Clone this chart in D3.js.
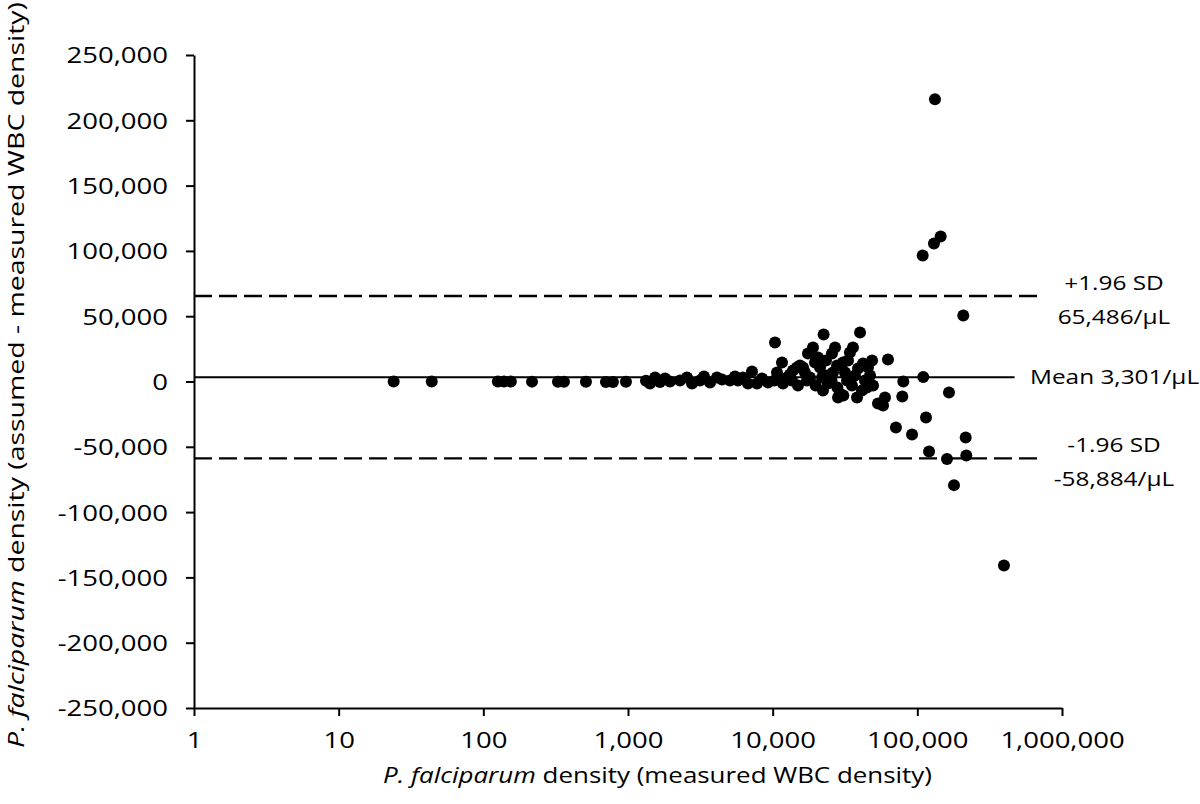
<!DOCTYPE html>
<html>
<head>
<meta charset="utf-8">
<script src="https://cdn.jsdelivr.net/npm/d3@7"></script>
<style>
    html, body { margin: 0; padding: 0; background: #fff; }
    svg { display: block; font-family: "Open Sans", sans-serif; }
</style>
</head>
<body>
<svg id="chart" width="1200" height="804"></svg>
<script>
// measured-WBC parasite density (x) and assumed - measured difference (y)
const measured = [
    24, 44, 126, 139, 155, 217, 328, 361, 512, 704, 787, 968, 1331, 1419, 1538, 1664, 1803, 1950,
    2287, 2557, 2770, 3145, 3352, 3690, 4121, 4467, 5070, 5490, 5757, 6233, 6750, 7194, 7796, 8440,
    9290, 10380, 11600, 10710, 10300, 11790, 12560, 13180, 13810, 14720, 15440, 16210, 16710, 13600,
    14960, 17260, 18120, 17540, 19000, 19630, 19800, 20570, 21250, 21940, 22280, 22500, 23370, 23730,
    24100, 25700, 26980, 27860, 26120, 25500, 28000, 29180, 30620, 31620, 32650, 33170, 34220, 35320,
    35910, 37070, 38900, 40170, 28300, 30800, 38280, 41430, 43450, 42100, 45600, 47100, 48630, 49400,
    44870, 53460, 57920, 59750, 62660, 71120, 80000, 78700, 91900, 108900, 109900, 114800, 120500,
    130300, 132400, 145000, 160300, 165500, 179200, 207800, 215900, 218000, 397000
];
const difference = [
    -20, -30, -50, -60, -70, -100, -150, -160, -230, -300, -350, -200, 600, -1500, 3000, -300, 2300, 0,
    770, 3060, -1530, 770, 3830, -770, 3060, 1530, 770, 3830, 770, 3060, -1530, 7660, -1530, 2300,
    -770, 29860, 14550, 6890, 770, -1530, 3060, 5360, 8420, 10720, 12250, 10720, 6890, 770,
    -3060, 770, 3060, 21440, 26030, 14550, -3060, 18380, 10720, 3060, -6890, 35990, 16080, 4590,
    -1530, 21440, 26030, 12250, 6890, 770, -4590, -9190, 14550, 6890, 770, 16080, 22200, -3060,
    26030, 4590, 9950, 37520, -12250, -10720, -12250, -6890, 770, 13780, 10720, 4590, 16080, -3060,
    -4590, -16850, -18380, -12250, 16850, -35220, 0, -11490, -40580, 96480, 3450, -27570, -53600,
    105670, 216150, 111030, -59420, -8420, -79350, 50540, -42880, -56660, -140890
];

const xTicks = [1, 10, 100, 1000, 10000, 100000, 1000000];
const yTicks = d3.range(-250000, 250001, 50000);

// agreement limits: +1.96 SD, mean, -1.96 SD, and how far right each line runs
const limitValues = [65486, 3301, -58884];
const limitEnds = [700000, 470000, 700000];
const limitLabels = [["+1.96 SD", "65,486/µL"], ["Mean 3,301/µL"], ["-1.96 SD", "-58,884/µL"]];

const stretch = 1.25;
const svg = d3.select("#chart");
const fmt = d => d3.format(",")(d).replace("−", "-");

const x = d3.scaleLog().domain([1, 1e6]).range([194, 1062]);
const y = d3.scaleLinear().domain([-250000, 250000]).range([708, 55]);

// limit lines
const line = d3.line().x(d => x(d[0])).y(d => y(d[1]));
limitValues.forEach((v, i) => {
    svg.append("path")
        .attr("d", line([[1, v], [limitEnds[i], v]]))
        .attr("fill", "none")
        .attr("stroke", "#000")
        .attr("stroke-width", i === 1 ? 2 : 2.3)
        .attr("stroke-dasharray", i === 1 ? null : "18 7");
});

// axes
const yAxis = svg.append("g")
    .attr("transform", `translate(${x(1)},0)`)
    .call(d3.axisLeft(y).tickValues(yTicks).tickFormat(fmt).tickSize(8).tickSizeOuter(0));
const xAxis = svg.append("g")
    .attr("transform", `translate(0,${y(-250000)})`)
    .call(d3.axisBottom(x).tickValues(xTicks).tickFormat(fmt).tickSize(8).tickSizeOuter(0));

[yAxis, xAxis].forEach(g => {
    g.attr("font-family", null).attr("font-size", 22);
    g.select(".domain").attr("stroke", "#000").attr("stroke-width", 2);
    g.selectAll(".tick line").attr("stroke", "#000").attr("stroke-width", 2);
    g.selectAll(".tick text").attr("fill", "#000").attr("transform", `scale(${stretch},1)`);
});
yAxis.selectAll(".tick text").attr("x", -26 / stretch).attr("dy", "0.36em");
xAxis.selectAll(".tick text").attr("y", 40).attr("dy", 0);

// points
svg.append("g")
    .selectAll("circle")
    .data(measured.map((m, i) => [m, difference[i]]))
    .join("circle")
    .attr("cx", d => x(d[0]))
    .attr("cy", d => y(d[1]))
    .attr("r", 6)
    .attr("fill", "#000");

// limit labels
limitLabels.forEach((lines, i) => {
    const ly = y(limitValues[i]);
    if (lines.length === 1) {
        svg.append("text")
            .attr("transform", `translate(1030,${ly + 7}) scale(${stretch},1)`)
            .attr("font-size", 19.5)
            .attr("fill", "#000")
            .text(lines[0]);
    } else {
        lines.forEach((t, k) => {
            svg.append("text")
                .attr("transform", `translate(1114,${ly + (k === 0 ? -6 : 28)}) scale(${stretch},1)`)
                .attr("text-anchor", "middle")
                .attr("font-size", 19.5)
                .attr("fill", "#000")
                .text(t);
        });
    }
});

// axis titles, fitted to the width they take in the original
function title(parts, size, width, place) {
    const t = svg.append("text").attr("text-anchor", "middle").attr("font-size", size).attr("fill", "#000");
    parts.forEach(p => t.append("tspan").attr("font-style", p[1] ? "italic" : null).text(p[0]));
    const w = t.node().getComputedTextLength();
    t.attr("transform", `${place} scale(${width / w},1)`);
}
title([["P. falciparum", true], [" density (measured WBC density)", false]], 21, 549, "translate(657.5,783)");
title([["P. falciparum", true], [" density (assumed - measured WBC density)", false]], 22, 746, "translate(24,375) rotate(-90)");
</script>
</body>
</html>
